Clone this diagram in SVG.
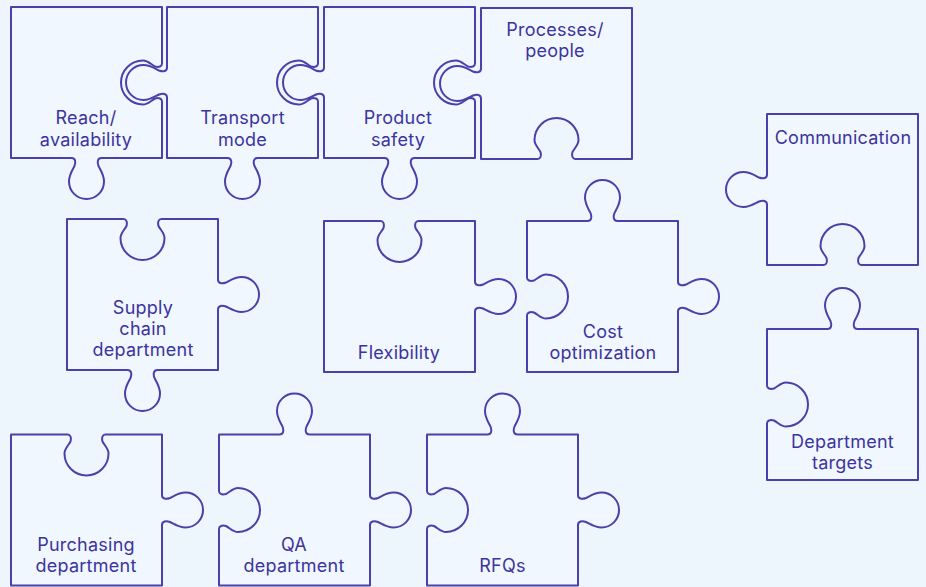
<svg xmlns="http://www.w3.org/2000/svg" width="926" height="587" viewBox="0 0 926 587">
  <style>
    .bg { fill: #eef6fd; }
    .piece path { fill: #f0f7fe; stroke: #4a40ab; stroke-width: 2; stroke-linejoin: round; stroke-linecap: round; }
    .piece text { font-family: Inter, "Liberation Sans", sans-serif; font-size: 18px; letter-spacing: 0.25px; fill: #3d339f; text-anchor: middle; }
  </style>
  <rect class="bg" x="0" y="0" width="926" height="587"/>

  <!-- Tabs are 30 wide on the edge (r 17.5 knob); blanks are 38 wide (r 22 socket). Pieces are 151 square. -->

  <!-- top row -->
  <g id="reach-availability" class="piece">
    <path d="M11,7 h151 v56.5 c0,3 -3,4 -7,3 c-4,-2 -7,-6 -12,-6 a22,22 0 0 0 0,44 c5,0 8,-4 12,-6 c4,-1 7,0 7,3 v56.5 h-60.5 c-4,0 -4.5,4 -3,8 c2,4 5.5,9 5.5,15.5 a17.5,17.5 0 0 1 -35,0 c0,-6.5 3.5,-11.5 5.5,-15.5 c1.5,-4 1,-8 -3,-8 h-60.5 z"/>
    <text x="86" y="124">Reach/</text>
    <text x="86" y="145.5">availability</text>
  </g>

  <g id="transport-mode" class="piece">
    <path d="M167,7 h151 v56.5 c0,3 -3,4 -7,3 c-4,-2 -7,-6 -12,-6 a22,22 0 0 0 0,44 c5,0 8,-4 12,-6 c4,-1 7,0 7,3 v56.5 h-60.5 c-4,0 -4.5,4 -3,8 c2,4 5.5,9 5.5,15.5 a17.5,17.5 0 0 1 -35,0 c0,-6.5 3.5,-11.5 5.5,-15.5 c1.5,-4 1,-8 -3,-8 h-60.5 v-60.5 c0,-4 -4,-4.5 -8,-3 c-4,2 -9,5.5 -15.5,5.5 a17.5,17.5 0 0 1 0,-35 c6.5,0 11.5,3.5 15.5,5.5 c4,1.5 8,1 8,-3 z"/>
    <text x="242.5" y="124">Transport</text>
    <text x="242.5" y="145.5">mode</text>
  </g>

  <g id="product-safety" class="piece">
    <path d="M324,7 h151 v56.5 c0,3 -3,4 -7,3 c-4,-2 -7,-6 -12,-6 a22,22 0 0 0 0,44 c5,0 8,-4 12,-6 c4,-1 7,0 7,3 v56.5 h-60.5 c-4,0 -4.5,4 -3,8 c2,4 5.5,9 5.5,15.5 a17.5,17.5 0 0 1 -35,0 c0,-6.5 3.5,-11.5 5.5,-15.5 c1.5,-4 1,-8 -3,-8 h-60.5 v-60.5 c0,-4 -4,-4.5 -8,-3 c-4,2 -9,5.5 -15.5,5.5 a17.5,17.5 0 0 1 0,-35 c6.5,0 11.5,3.5 15.5,5.5 c4,1.5 8,1 8,-3 z"/>
    <text x="398" y="124">Product</text>
    <text x="398" y="145.5">safety</text>
  </g>

  <g id="processes-people" class="piece">
    <path d="M481,8 h151 v151 h-56.5 c-3,0 -4,-3 -3,-7 c2,-4 6,-7 6,-12 a22,22 0 0 0 -44,0 c0,5 4,8 6,12 c1,4 0,7 -3,7 h-56.5 v-60.5 c0,-4 -4,-4.5 -8,-3 c-4,2 -9,5.5 -15.5,5.5 a17.5,17.5 0 0 1 0,-35 c6.5,0 11.5,3.5 15.5,5.5 c4,1.5 8,1 8,-3 z"/>
    <text x="555" y="35.5">Processes/</text>
    <text x="555" y="56.5">people</text>
  </g>

  <!-- right column -->
  <g id="communication" class="piece">
    <path d="M767,114 h151 v151 h-56.5 c-3,0 -4,-3 -3,-7 c2,-4 6,-7 6,-12 a22,22 0 0 0 -44,0 c0,5 4,8 6,12 c1,4 0,7 -3,7 h-56.5 v-60.5 c0,-4 -4,-4.5 -8,-3 c-4,2 -9,5.5 -15.5,5.5 a17.5,17.5 0 0 1 0,-35 c6.5,0 11.5,3.5 15.5,5.5 c4,1.5 8,1 8,-3 z"/>
    <text x="843" y="144">Communication</text>
  </g>

  <g id="department-targets" class="piece">
    <path d="M767,329 h60.5 c4,0 4.5,-4 3,-8 c-2,-4 -5.5,-9 -5.5,-15.5 a17.5,17.5 0 0 1 35,0 c0,6.5 -3.5,11.5 -5.5,15.5 c-1.5,4 -1,8 3,8 h60.5 v151 h-151 v-56.5 c0,-3 3,-4 7,-3 c4,2 7,6 12,6 a22,22 0 0 0 0,-44 c-5,0 -8,4 -12,6 c-4,1 -7,0 -7,-3 z"/>
    <text x="842.5" y="448">Department</text>
    <text x="842.5" y="469">targets</text>
  </g>

  <!-- middle row -->
  <g id="supply-chain-department" class="piece">
    <path d="M67,219 h56.5 c3,0 4,3 3,7 c-2,4 -6,7 -6,12 a22,22 0 0 0 44,0 c0,-5 -4,-8 -6,-12 c-1,-4 0,-7 3,-7 h56.5 v60.5 c0,4 4,4.5 8,3 c4,-2 9,-5.5 15.5,-5.5 a17.5,17.5 0 0 1 0,35 c-6.5,0 -11.5,-3.5 -15.5,-5.5 c-4,-1.5 -8,-1 -8,3 v60.5 h-60.5 c-4,0 -4.5,4 -3,8 c2,4 5.5,9 5.5,15.5 a17.5,17.5 0 0 1 -35,0 c0,-6.5 3.5,-11.5 5.5,-15.5 c1.5,-4 1,-8 -3,-8 h-60.5 z"/>
    <text x="143" y="313.5">Supply</text>
    <text x="143" y="334.5">chain</text>
    <text x="143" y="355.5">department</text>
  </g>

  <g id="flexibility" class="piece">
    <path d="M324,221 h56.5 c3,0 4,3 3,7 c-2,4 -6,7 -6,12 a22,22 0 0 0 44,0 c0,-5 -4,-8 -6,-12 c-1,-4 0,-7 3,-7 h56.5 v60.5 c0,4 4,4.5 8,3 c4,-2 9,-5.5 15.5,-5.5 a17.5,17.5 0 0 1 0,35 c-6.5,0 -11.5,-3.5 -15.5,-5.5 c-4,-1.5 -8,-1 -8,3 v60.5 h-151 z"/>
    <text x="399" y="359">Flexibility</text>
  </g>

  <g id="cost-optimization" class="piece">
    <path d="M527,221 h60.5 c4,0 4.5,-4 3,-8 c-2,-4 -5.5,-9 -5.5,-15.5 a17.5,17.5 0 0 1 35,0 c0,6.5 -3.5,11.5 -5.5,15.5 c-1.5,4 -1,8 3,8 h60.5 v60.5 c0,4 4,4.5 8,3 c4,-2 9,-5.5 15.5,-5.5 a17.5,17.5 0 0 1 0,35 c-6.5,0 -11.5,-3.5 -15.5,-5.5 c-4,-1.5 -8,-1 -8,3 v60.5 h-151 v-56.5 c0,-3 3,-4 7,-3 c4,2 7,6 12,6 a22,22 0 0 0 0,-44 c-5,0 -8,4 -12,6 c-4,1 -7,0 -7,-3 z"/>
    <text x="603" y="338">Cost</text>
    <text x="603" y="359">optimization</text>
  </g>

  <!-- bottom row -->
  <g id="purchasing-department" class="piece">
    <path d="M11,434.5 h56.5 c3,0 4,3 3,7 c-2,4 -6,7 -6,12 a22,22 0 0 0 44,0 c0,-5 -4,-8 -6,-12 c-1,-4 0,-7 3,-7 h56.5 v60.5 c0,4 4,4.5 8,3 c4,-2 9,-5.5 15.5,-5.5 a17.5,17.5 0 0 1 0,35 c-6.5,0 -11.5,-3.5 -15.5,-5.5 c-4,-1.5 -8,-1 -8,3 v60.5 h-151 z"/>
    <text x="86" y="551">Purchasing</text>
    <text x="86" y="572">department</text>
  </g>

  <g id="qa-department" class="piece">
    <path d="M219,434.5 h60.5 c4,0 4.5,-4 3,-8 c-2,-4 -5.5,-9 -5.5,-15.5 a17.5,17.5 0 0 1 35,0 c0,6.5 -3.5,11.5 -5.5,15.5 c-1.5,4 -1,8 3,8 h60.5 v60.5 c0,4 4,4.5 8,3 c4,-2 9,-5.5 15.5,-5.5 a17.5,17.5 0 0 1 0,35 c-6.5,0 -11.5,-3.5 -15.5,-5.5 c-4,-1.5 -8,-1 -8,3 v60.5 h-151 v-56.5 c0,-3 3,-4 7,-3 c4,2 7,6 12,6 a22,22 0 0 0 0,-44 c-5,0 -8,4 -12,6 c-4,1 -7,0 -7,-3 z"/>
    <text x="294" y="551">QA</text>
    <text x="294" y="572">department</text>
  </g>

  <g id="rfqs" class="piece">
    <path d="M427,434.5 h60.5 c4,0 4.5,-4 3,-8 c-2,-4 -5.5,-9 -5.5,-15.5 a17.5,17.5 0 0 1 35,0 c0,6.5 -3.5,11.5 -5.5,15.5 c-1.5,4 -1,8 3,8 h60.5 v60.5 c0,4 4,4.5 8,3 c4,-2 9,-5.5 15.5,-5.5 a17.5,17.5 0 0 1 0,35 c-6.5,0 -11.5,-3.5 -15.5,-5.5 c-4,-1.5 -8,-1 -8,3 v60.5 h-151 v-56.5 c0,-3 3,-4 7,-3 c4,2 7,6 12,6 a22,22 0 0 0 0,-44 c-5,0 -8,4 -12,6 c-4,1 -7,0 -7,-3 z"/>
    <text x="502.5" y="572">RFQs</text>
  </g>

  <g id="connectors"/>
</svg>
